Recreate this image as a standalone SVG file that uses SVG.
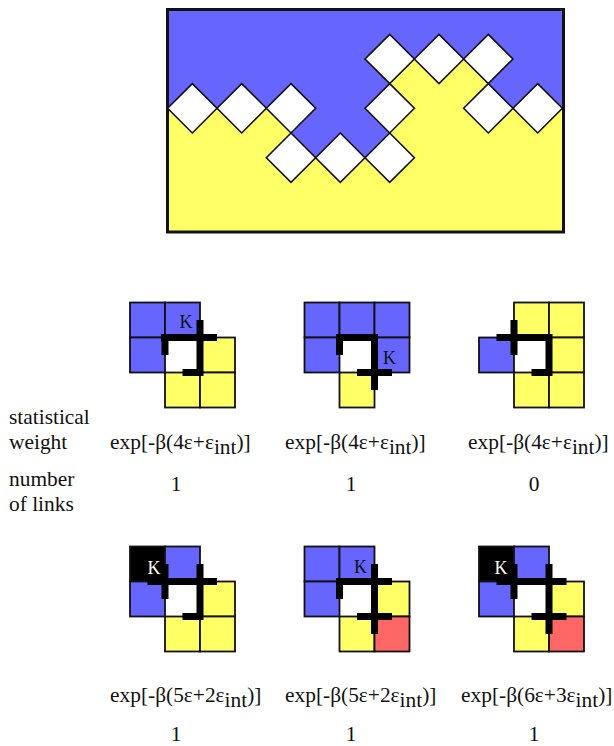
<svg xmlns="http://www.w3.org/2000/svg" width="614" height="746" viewBox="0 0 614 746">
<style>
text{font-family:"Liberation Serif","Times New Roman",serif;font-size:21.4px;fill:#111}
.k{font-size:18px;text-anchor:middle}
.kw{fill:#fff}
.n{text-anchor:middle}
.c{stroke:#111;stroke-width:1.8}
.b{fill:#6666ff}.y{fill:#ffff66}.r{fill:#ff6666}.d{fill:#000}
.w{fill:none;stroke:#000;stroke-width:7;stroke-linecap:butt}
.dm{fill:#fff;stroke:#111;stroke-width:1.6}
</style>
<defs>
<rect id="cell" width="35" height="35"/>
<path id="dia" d="M0-24.67 24.67 0 0 24.67-24.67 0Z" class="dm"/>
</defs>
<g id="overview">
<rect x="167.5" y="9.5" width="396" height="222.5" class="b"/>
<path d="M167.5 108.3H291V157.7H389.7V59H488.3V108.3H563.5V232H167.5Z" class="y"/>
<rect x="167.5" y="9.5" width="396" height="222.5" fill="none" stroke="#111" stroke-width="3"/>
<use href="#dia" x="389.7" y="59"/><use href="#dia" x="439" y="59"/><use href="#dia" x="488.3" y="59"/>
<use href="#dia" x="192.3" y="108.3"/><use href="#dia" x="241.7" y="108.3"/><use href="#dia" x="291" y="108.3"/>
<use href="#dia" x="389.7" y="108.3"/><use href="#dia" x="488.3" y="108.3"/><use href="#dia" x="537.7" y="108.3"/>
<use href="#dia" x="291" y="157.7"/><use href="#dia" x="340.3" y="157.7"/><use href="#dia" x="389.7" y="157.7"/>
</g>
<g id="p1" transform="translate(130 302.5)">
<use href="#cell" class="b c" x="0" y="0"/><use href="#cell" class="b c" x="35" y="0"/><use href="#cell" class="b c" x="0" y="35"/>
<use href="#cell" class="y c" x="70" y="35"/><use href="#cell" class="y c" x="35" y="70"/><use href="#cell" class="y c" x="70" y="70"/>
<path class="w" d="M31 35H87M35 31.500V52.500M70 17.500V73.500M52.500 70H73.500"/>
<text class="k" x="56" y="25">K</text>
</g>
<g id="p2" transform="translate(304.500 302.500)">
<use href="#cell" class="b c" x="0" y="0"/><use href="#cell" class="b c" x="35" y="0"/><use href="#cell" class="b c" x="70" y="0"/>
<use href="#cell" class="b c" x="0" y="35"/><use href="#cell" class="b c" x="70" y="35"/><use href="#cell" class="y c" x="35" y="70"/>
<path class="w" d="M31.500 35H73.500M35 31.500V52.500M70 31.500V87.500M52.500 70H87.500"/>
<text class="k" x="85" y="61">K</text>
</g>
<g id="p3" transform="translate(479 302.500)">
<use href="#cell" class="y c" x="35" y="0"/><use href="#cell" class="y c" x="70" y="0"/><use href="#cell" class="b c" x="0" y="35"/>
<use href="#cell" class="y c" x="70" y="35"/><use href="#cell" class="y c" x="35" y="70"/><use href="#cell" class="y c" x="70" y="70"/>
<path class="w" d="M17.500 35H73.500M35 17.500V52.500M70 31.500V73.500M52.500 70H73.500"/>
</g>
<g id="p4" transform="translate(130 546.500)">
<use href="#cell" class="d c" x="0" y="0"/><use href="#cell" class="b c" x="35" y="0"/><use href="#cell" class="b c" x="0" y="35"/>
<use href="#cell" class="y c" x="70" y="35"/><use href="#cell" class="y c" x="35" y="70"/><use href="#cell" class="y c" x="70" y="70"/>
<path class="w" d="M17.500 35H87M35 17.500V52.500M70 17.500V73.500M52.500 70H73.500"/>
<text class="k kw" x="24" y="27">K</text>
</g>
<g id="p5" transform="translate(304.500 546.500)">
<use href="#cell" class="b c" x="0" y="0"/><use href="#cell" class="b c" x="35" y="0"/><use href="#cell" class="b c" x="0" y="35"/>
<use href="#cell" class="y c" x="70" y="35"/><use href="#cell" class="y c" x="35" y="70"/><use href="#cell" class="r c" x="70" y="70"/>
<path class="w" d="M31.500 35H87.500M35 31.500V52.500M70 17.500V87.500M52.500 70H87.500"/>
<text class="k" x="56" y="26.500">K</text>
</g>
<g id="p6" transform="translate(479 546.500)">
<use href="#cell" class="d c" x="0" y="0"/><use href="#cell" class="b c" x="35" y="0"/><use href="#cell" class="b c" x="0" y="35"/>
<use href="#cell" class="y c" x="70" y="35"/><use href="#cell" class="y c" x="35" y="70"/><use href="#cell" class="r c" x="70" y="70"/>
<path class="w" d="M17.500 35H87.500M35 17.500V52.500M70 17.500V87.500M52.500 70H87.500"/>
<text class="k kw" x="22" y="27.500">K</text>
</g>
<g id="labels">
<text x="9" y="424">statistical</text>
<text x="9" y="449">weight</text>
<text x="9" y="485.500">number</text>
<text x="9" y="510.500">of links</text>
<text x="110" y="448.500">exp[-β(4ε+ε<tspan dy="5">int</tspan><tspan dy="-5">)]</tspan></text>
<text x="285" y="448.500">exp[-β(4ε+ε<tspan dy="5">int</tspan><tspan dy="-5">)]</tspan></text>
<text x="468" y="448.500">exp[-β(4ε+ε<tspan dy="5">int</tspan><tspan dy="-5">)]</tspan></text>
<text class="n" x="176" y="490.500">1</text><text class="n" x="351" y="490.500">1</text><text class="n" x="534" y="490.500">0</text>
<text x="110" y="701.500">exp[-β(5ε+2ε<tspan dy="5">int</tspan><tspan dy="-5">)]</tspan></text>
<text x="285" y="701.500">exp[-β(5ε+2ε<tspan dy="5">int</tspan><tspan dy="-5">)]</tspan></text>
<text x="461" y="701.500">exp[-β(6ε+3ε<tspan dy="5">int</tspan><tspan dy="-5">)]</tspan></text>
<text class="n" x="176" y="741.300">1</text><text class="n" x="351" y="741.300">1</text><text class="n" x="534" y="741.300">1</text>
</g>
</svg>
